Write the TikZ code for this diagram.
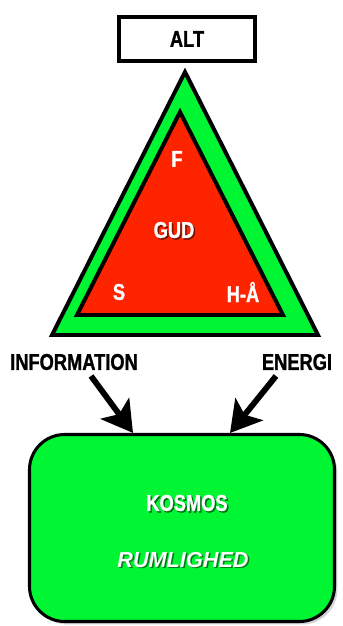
\documentclass[tikz,border=0pt]{standalone}
\usepackage{fontspec}
\setmainfont{Liberation Sans}[FakeStretch=0.8,BoldFeatures={FakeBold=1.2}]
\newfontfamily\wideFont{Liberation Sans}
\usetikzlibrary{arrows.meta,shadows}
\definecolor{kosmosGreen}{RGB}{0,245,50}
\definecolor{gudRed}{RGB}{255,36,0}

\begin{document}
\begin{tikzpicture}
[x=0.03cm,y=-0.03cm,%
  lineDecorate/.style={line width=3.4pt,line join=miter},%
  boxDecorate/.style={shape=rectangle,draw,line width=3.4pt,fill=white,minimum width=4.08cm,minimum height=1.32cm,%
    font=\bfseries\fontsize{19.5}{21}\selectfont,drop shadow={shadow xshift=1.5pt,shadow yshift=-1.5pt,opacity=0.3}},%
  kosmosDecorate/.style={shape=rectangle,rounded corners=30pt,draw,line width=2.6pt,fill=kosmosGreen,%
    minimum width=9.15cm,minimum height=5.61cm,drop shadow={shadow xshift=2.5pt,shadow yshift=-2.5pt,opacity=0.35}},%
  textDecorate/.style={font=\bfseries\fontsize{19.5}{21}\selectfont},%
  shadowDecorate/.style={text=black,opacity=0.5},%
  arrowDecorate/.style={-{Stealth[length=26pt,width=30pt,inset=6pt]},line width=5pt}]
\useasboundingbox (0,0) rectangle (343,626);
%% top box
\node (alt) at (187,39) [boxDecorate] {ALT};
%% triangles
\draw[lineDecorate,fill=kosmosGreen] (185,72) -- (318,335) -- (52,335) -- cycle;
\draw[lineDecorate,fill=gudRed] (180,112) -- (283,315) -- (77,315) -- cycle;
%% white labels in the triangle
\node (gud-shadow) at (175.5,231.5) [textDecorate,shadowDecorate] {GUD};
\foreach \nodename/\txt/\x/\y in {f/F/177/159, gud/GUD/174/230, s/S/119/292, ha/H-Å/243/292}
{
  \node (\nodename) at (\x,\y) [textDecorate,text=white] {\txt};
}
%% side labels
\node (information) at (74,362) [textDecorate] {INFORMATION};
\node (energi) at (297,362) [textDecorate] {ENERGI};
%% kosmos box
\node (kosmos) at (182,528) [kosmosDecorate] {};
\node (kosmostext-shadow) at (188.5,504.5) [textDecorate,shadowDecorate] {KOSMOS};
\node (kosmostext) at (187,503) [textDecorate,text=white] {KOSMOS};
\node (rumlighed-shadow) at (184.5,561.5) [shadowDecorate,font=\wideFont\bfseries\itshape\fontsize{18.5}{20}\selectfont] {RUMLIGHED};
\node (rumlighed) at (183,560) [text=white,font=\wideFont\bfseries\itshape\fontsize{18.5}{20}\selectfont] {RUMLIGHED};
%% arrows
\coordinate (infoTail) at (91,376);
\coordinate (infoTip) at (133,433);
\coordinate (energiTail) at (276,376);
\coordinate (energiTip) at (230,433);
\draw[arrowDecorate] (infoTail) -- (infoTip);
\draw[arrowDecorate] (energiTail) -- (energiTip);
\end{tikzpicture}
\end{document}
